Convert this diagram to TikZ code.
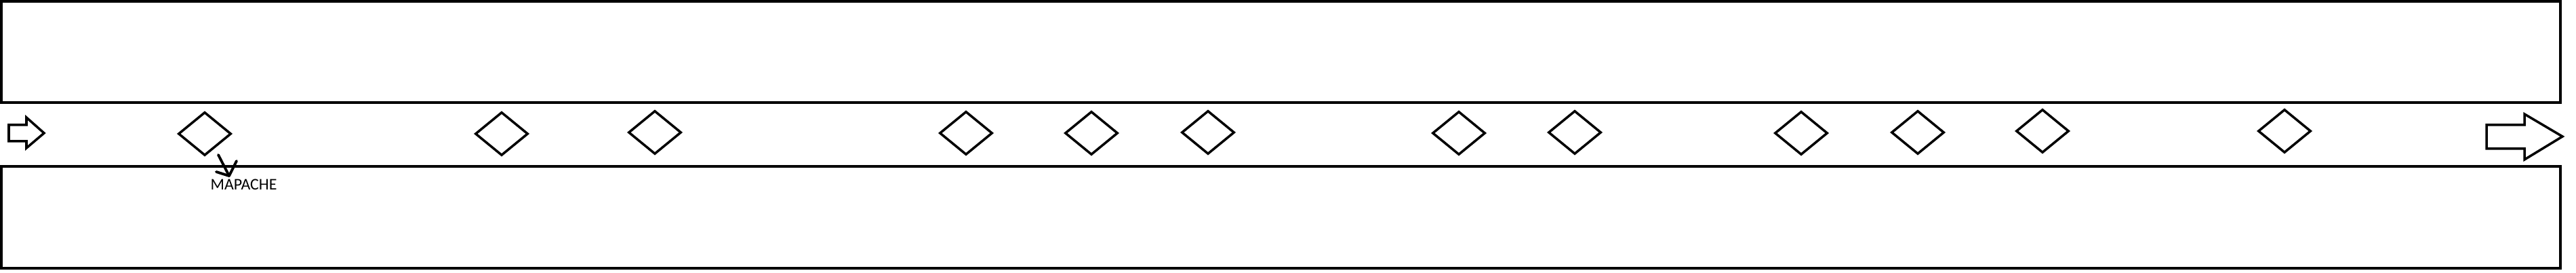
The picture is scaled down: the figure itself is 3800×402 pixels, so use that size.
\documentclass[tikz,border=0pt]{standalone}
\usepackage{fontspec}
\setmainfont{Carlito}
\usetikzlibrary{shapes.geometric}
\begin{document}
\begin{tikzpicture}[x=0.1mm,y=-0.1mm,
  lane/.style={draw=black, line width=1.25pt},
  lanethin/.style={draw=black, line width=1pt},
  gate/.style={diamond, draw=black, line width=1pt, inner sep=0pt,
    minimum width=7.8mm, minimum height=6.4mm},
  flow/.style={draw=black, line width=1pt, line join=miter},
  lbl/.style={font=\fontsize{6.8pt}{7.2pt}\selectfont, inner sep=0pt, text=black},
  pointer/.style={draw=black, line width=1.1pt, line cap=round, line join=round}]
\useasboundingbox (0,0) rectangle (3800,402);
% lanes
\draw[lane] (2,1.8) rectangle (3777,151);
\draw[lanethin] (2,245) rectangle (3777,395);
% start and end arrows
\draw[flow] (13,184) -- (39,184) -- (39,173) -- (65,196) -- (39,218) -- (39,208) -- (13,208) -- cycle;
\draw[flow] (3668,184) -- (3724,184) -- (3724,168) -- (3780,201) -- (3724,235) -- (3724,219) -- (3668,219) -- cycle;
% gates
\foreach \n/\x/\y in {1/302/197, 2/740/197, 3/966/195, 4/1425/196, 5/1610/196, 6/1782/195,
  7/2152/196, 8/2323/195, 9/2657/196, 10/2829/195, 11/3013/193, 12/3370/193}
  \node[gate] (d\n) at (\x,\y) {};
% label
\node[lbl, anchor=base west] (mapache) at (310,280) {MAPACHE};
\coordinate (ps) at (322,228);
\coordinate (pt) at (338,259);
\coordinate (pl) at (319,253);
\coordinate (pr) at (349,237);
\draw[pointer] (ps) -- (pt);
\draw[pointer] (pl) -- (pt) -- (pr);
\end{tikzpicture}
\end{document}
